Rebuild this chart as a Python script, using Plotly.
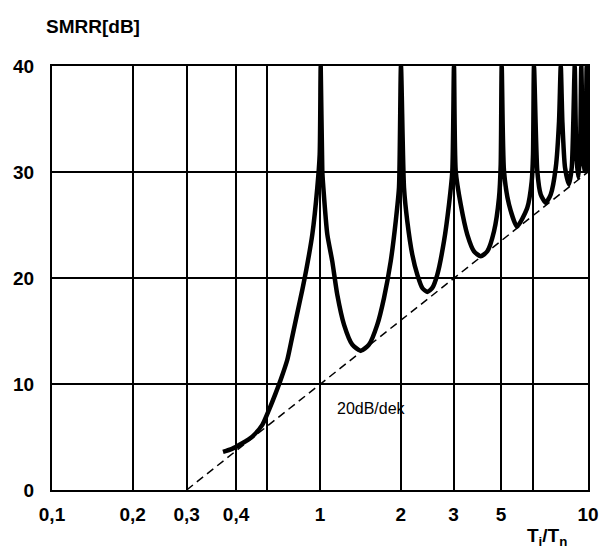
import math
import plotly.graph_objects as go

# Curve: ratio Ti/Tn and SMRR in dB
ratio = [0.4345, 0.4694, 0.5128, 0.5590, 0.6091, 0.6452, 0.6834, 0.7134, 0.7551, 0.7883,
         0.8229, 0.8591, 0.8890, 0.9360, 0.9771, 0.9974, 1.006,
         1.020, 1.029, 1.065, 1.111, 1.160, 1.229, 1.320, 1.419, 1.523, 1.636, 1.733,
         1.836, 1.917, 1.971, 2.005,
         2.058, 2.117, 2.210, 2.307, 2.409, 2.514, 2.624, 2.740, 2.902, 3.029, 3.117, 3.162,
         3.209, 3.350, 3.545, 3.755, 3.978, 4.210, 4.460, 4.655, 4.724, 4.764,
         4.859, 5.073, 5.433, 5.935, 6.166, 6.235, 6.288,
         6.469, 6.661, 6.954, 7.260, 7.580, 7.798, 7.913,
         8.022, 8.210, 8.496, 8.696, 8.815, 8.922,
         9.045, 9.201, 9.335, 9.441,
         9.579, 9.687, 9.804, 9.888, 10.0]
smrr_db = [3.60, 3.88, 4.41, 5.04, 6.14, 7.56, 9.14, 10.40, 12.29, 14.49,
           16.70, 18.90, 20.79, 24.10, 28.52, 31.66, 40.0,
           30.09, 28.54, 24.10, 21.58, 18.43, 15.60, 13.71, 13.14, 13.71, 15.60, 18.12,
           21.58, 25.36, 28.52, 40.0,
           28.52, 25.36, 22.21, 20.32, 19.06, 18.69, 19.06, 20.32, 23.47, 26.94, 30.09, 40.0,
           30.09, 26.94, 24.10, 22.52, 22.05, 22.52, 24.41, 27.57, 30.72, 40.0,
           30.09, 26.94, 24.86, 26.63, 29.14, 31.66, 40.0,
           30.09, 27.88, 27.10, 27.88, 30.41, 34.81, 40.0,
           34.81, 30.41, 28.83, 30.41, 34.81, 40.0,
           31.66, 29.46, 31.66, 40.0,
           31.66, 30.09, 33.24, 40.0, 30.06]

# 20 dB/decade asymptote
asym_ratio = [0.318, 10.0]
asym_db = [0.0, 30.0]

# Grid / tick positions as drawn in the picture
x_grid = [0.1, 0.2, 0.318, 0.486, 0.635, 1, 2, 3.15, 4.74, 6.25, 10]
x_labels = ["0,1", "0,2", "0,3", "0,4", "", "1", "2", "3", "5", "", "10"]
y_ticks = [0, 10, 20, 30, 40]
y_labels = ["0", "10", "20", "30", "40"]

FONT = "Liberation Sans, Arial, Helvetica, sans-serif"

fig = go.Figure()
fig.add_trace(go.Scatter(x=asym_ratio, y=asym_db, mode="lines",
                         line=dict(color="black", width=1.5, dash="8px,5px"),
                         hoverinfo="skip", showlegend=False))
fig.add_trace(go.Scatter(x=ratio, y=smrr_db, mode="lines",
                         line=dict(color="black", width=4.5, shape="spline", smoothing=0.6),
                         showlegend=False))

fig.add_annotation(x=math.log10(1.55), y=7.66, xref="x", yref="y",
                   text="20dB/dek", showarrow=False, xanchor="center", yanchor="middle",
                   font=dict(family=FONT, size=16, color="black"))
fig.add_annotation(x=(93 - 52) / 536, y=(490 - 27) / 424, xref="paper", yref="paper",
                   text="SMRR[dB]", showarrow=False, xanchor="center", yanchor="middle",
                   font=dict(family=FONT, size=19, color="black", weight="bold"))
fig.add_annotation(x=(547 - 52) / 536, y=(490 - 537) / 424, xref="paper", yref="paper",
                   text="T<sub>i</sub>/T<sub>n</sub>", showarrow=False,
                   xanchor="center", yanchor="middle",
                   font=dict(family=FONT, size=19, color="black", weight="bold"))

fig.update_layout(
    width=600, height=552,
    margin=dict(l=52, r=12, t=66, b=62, autoexpand=False),
    paper_bgcolor="white", plot_bgcolor="white",
    xaxis=dict(type="log", range=[-1, 1], tickvals=x_grid, ticktext=x_labels,
               showgrid=True, gridcolor="black", gridwidth=1.5, automargin=False,
               showline=True, mirror=True, linecolor="black", linewidth=2,
               ticks="", ticklabelstandoff=6, zeroline=False,
               tickfont=dict(family=FONT, size=19, color="black", weight="bold")),
    yaxis=dict(range=[0, 40], tickvals=y_ticks, ticktext=y_labels,
               showgrid=True, gridcolor="black", gridwidth=1.5, automargin=False,
               showline=True, mirror=True, linecolor="black", linewidth=2,
               ticks="", ticklabelstandoff=12, zeroline=False,
               tickfont=dict(family=FONT, size=19, color="black", weight="bold")),
)

fig.write_html("out.html", config={"displayModeBar": False},
               post_script="document.body.style.margin='0';document.body.style.overflow='hidden';")
